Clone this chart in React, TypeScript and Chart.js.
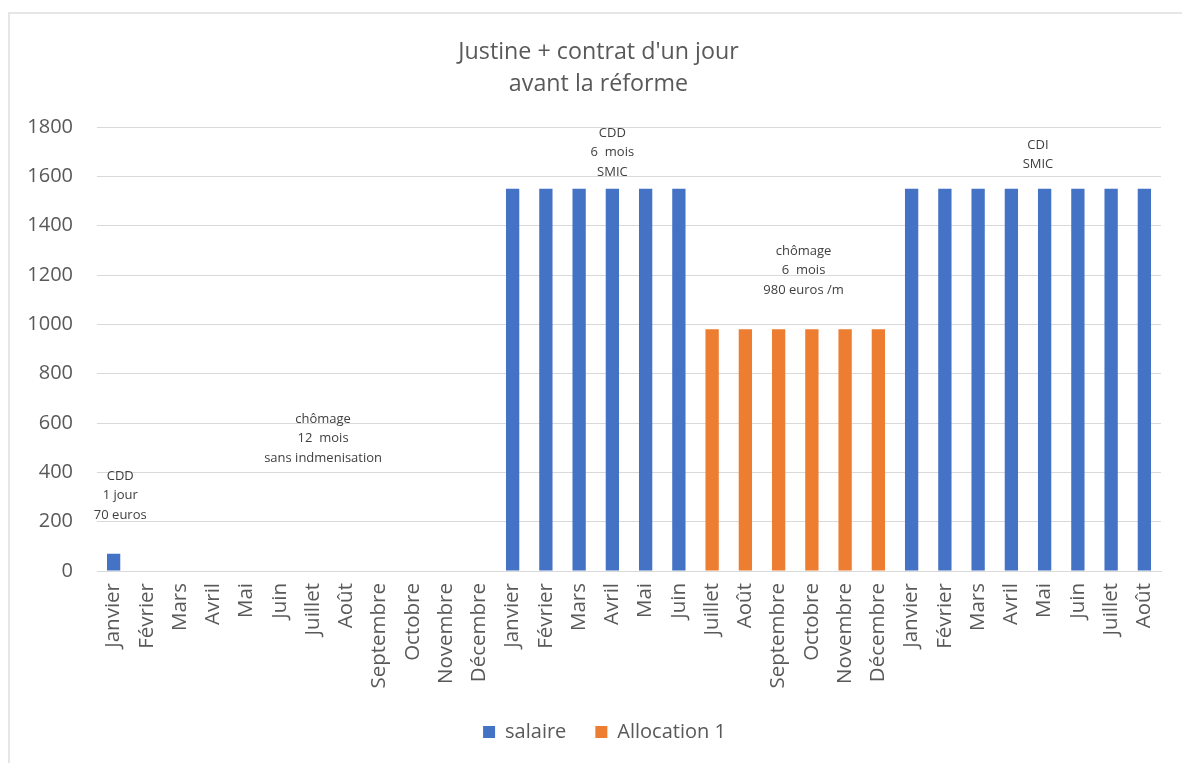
import React, { useEffect, useRef } from "react";
import { Chart, registerables } from "chart.js";

Chart.register(...registerables);

const year1 = ["Janvier", "Février", "Mars", "Avril", "Mai", "Juin", "Juillet", "Août", "Septembre", "Octobre", "Novembre", "Décembre"];
const year2 = ["Janvier", "Février", "Mars", "Avril", "Mai", "Juin", "Juillet", "Août", "Septembre", "Octobre", "Novembre", "Décembre"];
const year3 = ["Janvier", "Février", "Mars", "Avril", "Mai", "Juin", "Juillet", "Août"];
const categories = [...year1, ...year2, ...year3];

const salaire = [70, 0, 0, 0, 0, 0, 0, 0, 0, 0, 0, 0, 1550, 1550, 1550, 1550, 1550, 1550, 0, 0, 0, 0, 0, 0, 1550, 1550, 1550, 1550, 1550, 1550, 1550, 1550];
const allocation = [0, 0, 0, 0, 0, 0, 0, 0, 0, 0, 0, 0, 0, 0, 0, 0, 0, 0, 980, 980, 980, 980, 980, 980, 0, 0, 0, 0, 0, 0, 0, 0];

const titleLines = ["Justine + contrat d'un jour", "avant la réforme"];
const yTicks = [0, 200, 400, 600, 800, 1000, 1200, 1400, 1600, 1800];

const noteLines = [
  ["CDD", "1 jour", "70 euros"],
  ["chômage", "12  mois", "sans indmenisation"],
  ["CDD", "6  mois", "SMIC"],
  ["chômage", "6  mois", "980 euros /m"],
  ["CDI", "SMIC"],
];
const noteIndex = [0.2, 6.3, 15.0, 20.75, 27.8];
const noteValue = [385, 616, 1776, 1297, 1727];

const FONT = "'Open Sans', sans-serif";
const GREY = "#595959";

const notesPlugin = {
  id: "notes",
  afterLayout(chart: any) {
    if (chart.titleBlock) {
      chart.titleBlock.left += 14;
      chart.titleBlock.right += 14;
    }
    if (chart.legend) {
      chart.legend.left += 20;
      chart.legend.right += 20;
    }
  },
  afterDatasetsDraw(chart: any) {
    const { ctx, scales } = chart;
    const xs = scales.x;
    const ys = scales.y;
    ctx.save();
    ctx.font = `13px ${FONT}`;
    ctx.fillStyle = "#404040";
    ctx.textAlign = "center";
    ctx.textBaseline = "middle";
    noteLines.forEach((lines, i) => {
      const x = xs.getPixelForValue(noteIndex[i]);
      const y0 = ys.getPixelForValue(noteValue[i]);
      lines.forEach((t, j) => ctx.fillText(t, x, y0 + j * 19.5));
    });
    ctx.restore();
  },
};

export default function App() {
  const ref = useRef<HTMLCanvasElement | null>(null);

  useEffect(() => {
    if (!ref.current) return;
    const chart = new Chart(ref.current, {
      type: "bar",
      data: {
        labels: categories,
        datasets: [
          { label: "salaire", data: salaire, backgroundColor: "#4472C4", borderWidth: 0 },
          { label: "Allocation 1", data: allocation, backgroundColor: "#ED7D31", borderWidth: 0 },
        ],
      },
      options: {
        responsive: false,
        animation: false,
        datasets: { bar: { categoryPercentage: 1, barPercentage: 0.4 } },
        layout: { padding: { left: 8, right: 21, top: 0, bottom: 11 } },
        plugins: {
          title: {
            display: true,
            text: titleLines,
            color: GREY,
            font: { family: FONT, size: 23.25, weight: "normal", lineHeight: 32 / 23.25 },
            padding: { top: 36, bottom: 27 },
          },
          legend: {
            position: "bottom",
            labels: {
              color: GREY,
              font: { family: FONT, size: 20 },
              boxWidth: 12,
              boxHeight: 12,
              padding: 29,
            },
          },
          tooltip: { enabled: false },
        },
        scales: {
          x: {
            stacked: true,
            grid: { display: false, drawTicks: false },
            border: { display: true, color: "#d9d9d9", width: 1 },
            ticks: {
              color: GREY,
              font: { family: FONT, size: 20.5 },
              maxRotation: 90,
              minRotation: 90,
              autoSkip: false,
              padding: 12,
            },
            afterFit: (s: any) => { s.height = 122; },
          },
          y: {
            stacked: true,
            min: 0,
            max: 1800,
            afterBuildTicks: (s: any) => { s.ticks = yTicks.map((v) => ({ value: v })); },
            grid: { color: "#d9d9d9", drawTicks: false },
            border: { display: false },
            ticks: {
              color: GREY,
              font: { family: FONT, size: 20 },
              padding: 24,
              callback: (v: any) => String(v),
            },
            afterFit: (s: any) => { s.width = 89; },
          },
        },
      },
      plugins: [notesPlugin],
    });
    return () => chart.destroy();
  }, []);

  return (
    <div style={{ position: "fixed", left: 0, top: 0, width: 1182, height: 763, background: "#fff", overflow: "hidden" }}>
      <div style={{ position: "absolute", left: 8, top: 12, width: 1200, height: 800, borderTop: "2px solid #e6e6e6", borderLeft: "2px solid #e6e6e6" }} />
      <canvas ref={ref} width={1182} height={763} style={{ position: "absolute", left: 0, top: 0 }} />
    </div>
  );
}
